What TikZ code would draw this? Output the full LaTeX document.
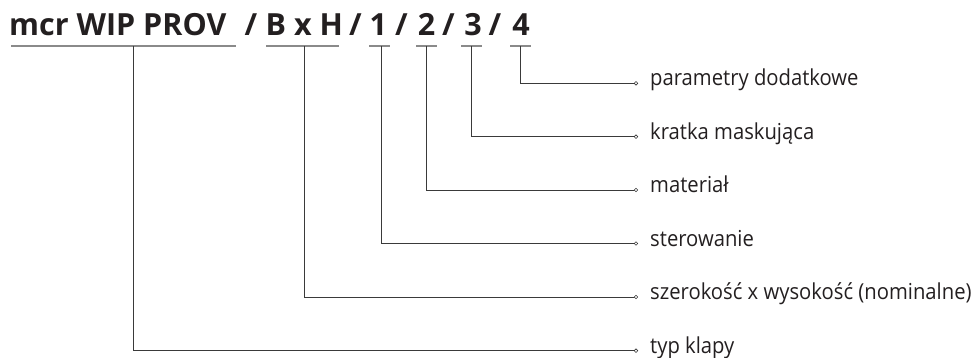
\documentclass[tikz,border=0pt]{standalone}
\usepackage{fontspec}
\setmainfont{Open Sans}
\newfontfamily\titlefont{Open Sans}
\newfontfamily\lblfont[FakeStretch=0.92]{Open Sans}
\definecolor{txt}{HTML}{231F20}
\definecolor{ln}{HTML}{3A3A3A}
\definecolor{ul}{HTML}{8A8A8A}
\begin{document}
\begin{tikzpicture}[x=1pt,y=-1pt,
  ttl/.style={anchor=base,inner sep=0pt,text=txt,font=\titlefont\bfseries\fontsize{30.5}{30.5}\selectfont},
  lbl/.style={anchor=mid west,inner sep=0pt,text=txt,font=\lblfont\fontsize{22}{22}\selectfont},
  conn/.style={draw=ln,line width=0.9pt},
  uline/.style={draw=ul,line width=1.4pt},
  dot/.style={circle,draw=ln,fill=white,line width=0.6pt,inner sep=0pt,minimum size=3.6pt}]
\useasboundingbox (0,0) rectangle (979,358);
% title
\node[ttl,anchor=base west] (t0) at (9,36) {mcr WIP PROV};
\node[ttl] (s1) at (251,36) {/};
\node[ttl] (t1) at (304.3,36) {B x H};
\node[ttl] (s2) at (355.3,36) {/};
\node[ttl] (t2) at (378.3,36) {1};
\node[ttl] (s3) at (401.5,36) {/};
\node[ttl] (t3) at (426.5,36) {2};
\node[ttl] (s4) at (448.5,36) {/};
\node[ttl] (t4) at (473,36) {3};
\node[ttl] (s5) at (495,36) {/};
\node[ttl] (t5) at (521,36) {4};
% underlines
\draw[uline] (11,46) -- (236,46);
\draw[uline] (266,46) -- (339.3,46);
\draw[uline] (369.3,46) -- (390,46);
\draw[uline] (416,46) -- (436.7,46);
\draw[uline] (461,46) -- (481.7,46);
\draw[uline] (510,46) -- (531,46);
% connector start points on underlines
\coordinate (u0) at (133.5,46);
\coordinate (u1) at (304,46);
\coordinate (u2) at (381,46);
\coordinate (u3) at (426,46);
\coordinate (u4) at (471.5,46);
\coordinate (u5) at (520.5,46);
% end points
\coordinate (e5) at (636,83.3);
\coordinate (e4) at (636,136.7);
\coordinate (e3) at (636,190);
\coordinate (e2) at (636,243.5);
\coordinate (e1) at (636,297);
\coordinate (e0) at (636,350.7);
% labels
\node[lbl] (l5) at (650,83.3) {parametry dodatkowe};
\node[lbl] (l4) at (650,136.7) {kratka maskująca};
\node[lbl] (l3) at (650,190) {materiał};
\node[lbl] (l2) at (650,243.5) {sterowanie};
\node[lbl] (l1) at (650,297) {szerokość x wysokość (nominalne)};
\node[lbl] (l0) at (650,350.7) {typ klapy};
% connectors
\foreach \i in {0,...,5}{
  \draw[conn] (u\i) |- (e\i);
  \node[dot] at (e\i) {};
}
\end{tikzpicture}
\end{document}
